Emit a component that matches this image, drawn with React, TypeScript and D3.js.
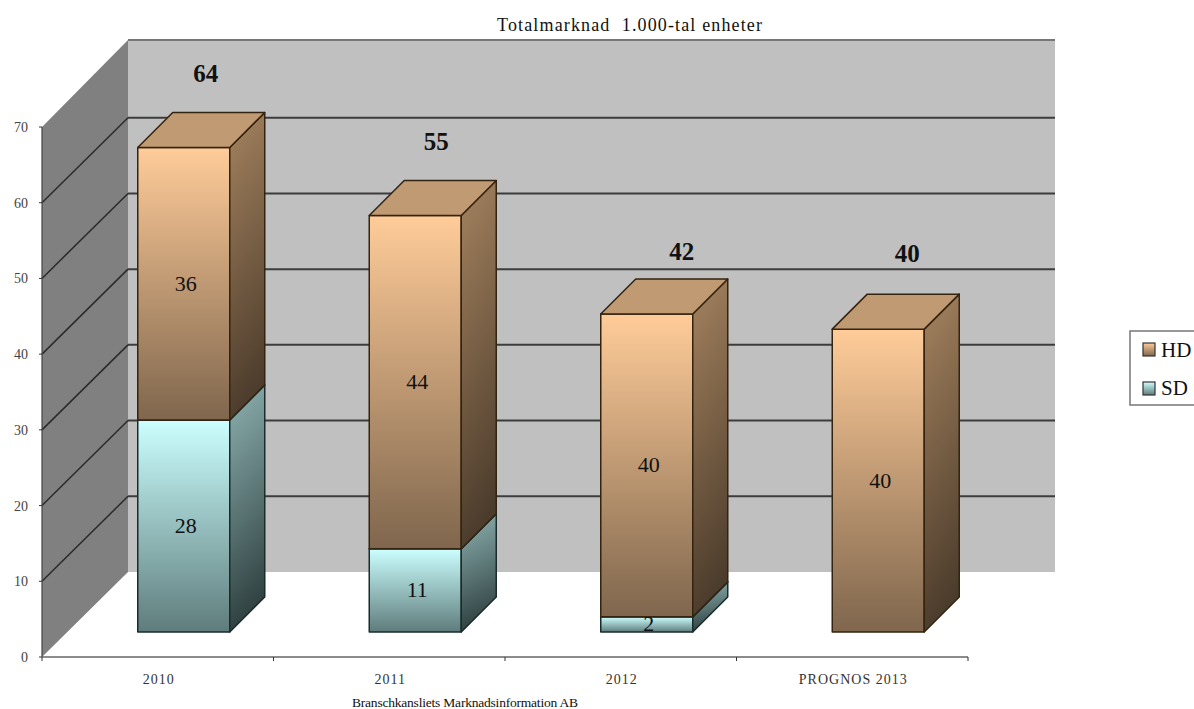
import React from "react";
import * as d3 from "d3";

const categories = ["2010", "2011", "2012", "PROGNOS 2013"];
const hdValues = [36, 44, 40, 40];
const sdValues = [28, 11, 2, 0];
const totals = [64, 55, 42, 40];
const yTicks = [0, 10, 20, 30, 40, 50, 60, 70];
const gridValues = [10, 20, 30, 40, 50, 60];
const totalLabelDx = [22, 21, 35, 29];
const totalLabelDy = [-65, -66, -54, -67];

const W = 1194, H = 709;
const x = d3.scaleBand<string>().domain(categories).range([42, 968]);
const y = d3.scaleLinear().domain([0, 70]).range([657, 127]);
const DEPTH = 86;
const ROOF = 40;
const BAR_IN = 25, BAR_DEPTH = 35;
const BAR_W = 92;
const serif = "'Liberation Serif', serif";

const stack = d3.stack<any>().keys(["sd", "hd"])(
  categories.map((c, i) => ({ c, sd: sdValues[i], hd: hdValues[i] }))
);

const palette: Record<string, any> = {
  hd: { front: ["#ffcc99", "#7f664d"], side: ["#a5835f", "#4c3c2c"], top: "#bf9a73", stroke: "#33230f" },
  sd: { front: ["#ccffff", "#5f7c7c"], side: ["#8fb3b3", "#2f4040"], top: "#99bfbf", stroke: "#1a2b2b" },
};

function Bar3D({ k, i, v0, v1 }: { k: string; i: number; v0: number; v1: number }) {
  if (v1 - v0 <= 0) return null;
  const p = palette[k];
  const xl = x(categories[i])! + (x.bandwidth() - BAR_W) / 2 + 26;
  const xr = xl + BAR_W;
  const bot = y(v0) - BAR_IN;
  const top = y(v1) - BAR_IN;
  const d = BAR_DEPTH;
  const poly = (pts: number[][]) => pts.map((q) => q.join(",")).join(" ");
  return (
    <g stroke={p.stroke} strokeWidth={1.5} strokeLinejoin="round">
      <polygon points={poly([[xl, top], [xr, top], [xr, bot], [xl, bot]])} fill={`url(#${k}-front)`} />
      <polygon points={poly([[xr, top], [xr + d, top - d], [xr + d, bot - d], [xr, bot]])} fill={`url(#${k}-side)`} />
      <polygon points={poly([[xl, top], [xl + d, top - d], [xr + d, top - d], [xr, top]])} fill={p.top} />
    </g>
  );
}

export default function App() {
  const floorBack = y(0) - DEPTH + 1;
  const xL = x.range()[0], xR = x.range()[1];
  return (
    <svg width={W} height={H} viewBox={`0 0 ${W} ${H}`} style={{ position: "absolute", left: 0, top: 0, background: "#fff" }} fontFamily={serif}>
      <defs>
        {Object.keys(palette).map((k) => (
          <React.Fragment key={k}>
            <linearGradient id={`${k}-front`} x1="0" y1="0" x2="0" y2="1">
              <stop offset="0" stopColor={palette[k].front[0]} />
              <stop offset="1" stopColor={palette[k].front[1]} />
            </linearGradient>
            <linearGradient id={`${k}-side`} x1="0" y1="0" x2="0.15" y2="1">
              <stop offset="0" stopColor={palette[k].side[0]} />
              <stop offset="1" stopColor={palette[k].side[1]} />
            </linearGradient>
          </React.Fragment>
        ))}
      </defs>

      <rect x={xL + DEPTH} y={ROOF} width={xR - xL + 1} height={floorBack - ROOF} fill="#c0c0c0" />
      <line x1={xL + DEPTH} x2={xR + DEPTH + 1} y1={ROOF} y2={ROOF} stroke="#777" strokeWidth={2} />
      <polygon points={`${xL},${y(70)} ${xL + DEPTH},${ROOF} ${xL + DEPTH},${floorBack} ${xL},${y(0)}`} fill="#808080" />

      {gridValues.map((v) => {
        const yy = y(v) - DEPTH + 1;
        return <line key={v} x1={xL + DEPTH} x2={xR + DEPTH + 1} y1={yy} y2={yy} stroke="#3c3c3c" strokeWidth={2} />;
      })}
      {gridValues.map((v) => (
        <line key={v} x1={xL} y1={y(v)} x2={xL + DEPTH} y2={y(v) - DEPTH + 1} stroke="#2a2a2a" strokeWidth={1.5} />
      ))}

      <line x1={xL} x2={xL} y1={y(70)} y2={y(0)} stroke="#444" strokeWidth={1.2} />
      <line x1={xL} x2={xR} y1={y(0)} y2={y(0)} stroke="#666" strokeWidth={1.5} />
      {yTicks.map((v) => (
        <g key={v}>
          <line x1={xL - 3} x2={xL} y1={y(v)} y2={y(v)} stroke="#333" />
          <text x={28} y={y(v) + 5} fontSize={14} textAnchor="end" fill="#444">{v}</text>
        </g>
      ))}
      {[...categories.map((c) => x(c)! + x.bandwidth()), xL].map((tx) => (
        <line key={tx} x1={tx} x2={tx} y1={y(0)} y2={y(0) + 4} stroke="#333" />
      ))}
      {categories.map((c) => (
        <text key={c} x={x(c)! + x.bandwidth() / 2 + 1} y={684} fontSize={14} letterSpacing={1} textAnchor="middle" fill="#333">{c}</text>
      ))}

      {categories.map((c, i) => (
        <g key={c}>
          {stack.map((s) => (
            <Bar3D key={s.key} k={s.key} i={i} v0={s[i][0]} v1={s[i][1]} />
          ))}
        </g>
      ))}

      {categories.map((c, i) => {
        const cx = x(c)! + x.bandwidth() / 2 + 26;
        return (
          <g key={c} fontSize={22} textAnchor="middle" fill="#111">
            <text x={cx + 2} y={y(sdValues[i] + hdValues[i] / 2) - BAR_IN + 7}>{hdValues[i]}</text>
            {sdValues[i] > 0 && <text x={cx + 2} y={y(sdValues[i] / 2) - BAR_IN + 7}>{sdValues[i]}</text>}
            <text x={cx + totalLabelDx[i]} y={y(totals[i]) - BAR_IN + totalLabelDy[i]} fontSize={25} fontWeight="bold">{totals[i]}</text>
          </g>
        );
      })}

      <text x={497} y={31} fontSize={18} textLength={265} lengthAdjust="spacing" xmlSpace="preserve" fill="#111">Totalmarknad  1.000-tal enheter</text>
      <text x={352} y={707} fontSize={13.5} textLength={226} lengthAdjust="spacing" fill="#111">Branschkansliets Marknadsinformation AB</text>

      <rect x={1130} y={331} width={70} height={74} fill="#fff" stroke="#777" strokeWidth={1.5} />
      {[["hd", "HD", 343, 357], ["sd", "SD", 382, 395]].map(([k, t, sy, ty]: any) => (
        <g key={k}>
          <rect x={1143} y={sy} width={12} height={13} fill={`url(#${k}-front)`} stroke="#333" strokeWidth={1.2} />
          <text x={1161} y={ty} fontSize={21} fill="#111">{t}</text>
        </g>
      ))}
    </svg>
  );
}
